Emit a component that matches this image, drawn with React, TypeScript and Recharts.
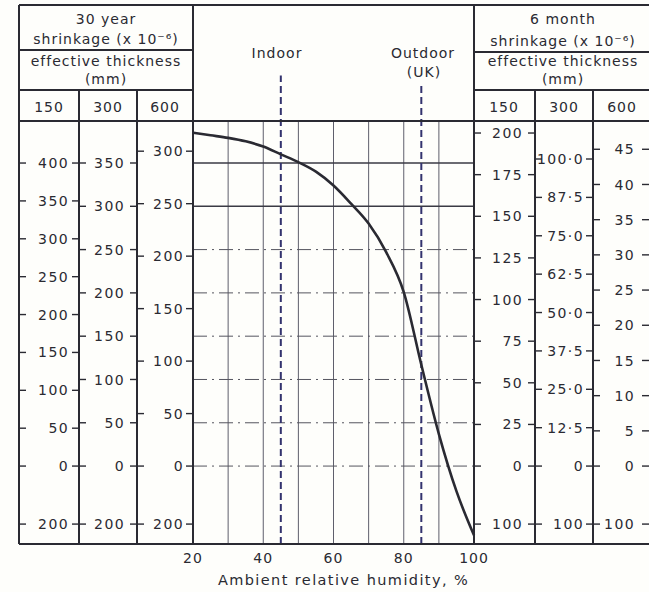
import React from "react";
import { ComposedChart, Line, XAxis, YAxis, ReferenceLine } from "recharts";

// curve: 30 year shrinkage read on the 300 mm scale (below 0 = swelling, broken scale)
const RH = [20, 25, 30, 35, 40, 45, 50, 55, 60, 65, 70, 75, 80, 85, 90, 95, 100];
const SHRINK_300 = [385, 382, 379, 375, 369, 360, 351, 340, 324, 303, 280, 247, 201, 117, 37, -29, -80];

const RH_TICKS = [20, 40, 60, 80, 100];
const RH_GRID = [30, 40, 50, 60, 70, 80, 90];
const GRID_SOLID = [350, 300];
const GRID_DASHED = [250, 200, 150, 100, 50, 0];
const INDOOR_RH = 45;
const OUTDOOR_RH = 85;

// side scales
const L150_TICKS = [0, 50, 100, 150, 200, 250, 300, 350, 400];
const L300_TICKS = [0, 50, 100, 150, 200, 250, 300, 350];
const L600_TICKS = [0, 50, 100, 150, 200, 250, 300];
const R150_TICKS = [0, 25, 50, 75, 100, 125, 150, 175, 200];
const R300_TICKS = [0, 12.5, 25, 37.5, 50, 62.5, 75, 87.5, 100];
const R600_TICKS = [0, 5, 10, 15, 20, 25, 30, 35, 40, 45];
const SWELL_30Y = "200";
const SWELL_6M = "100";

const MAIN_MIN = -90;
const MAIN_MAX = 398.5;
const SWELL_AT = -67;

const INK = "#2a2a32";
const FONT = "'DejaVu Sans', sans-serif";

const data = RH.map((rh, i) => ({ rh, s: SHRINK_300[i] }));

const dec = (v: number) => (v === 0 ? "0" : v.toFixed(1).replace(".", "·"));

// k = how each side scale relates to the 300 mm / 30 year scale
type Col = { id: string; k: number; side: "left" | "right"; w: number; ticks: number[]; swell: string; fmt: (v: number) => string; pad: number };

// recharts stacks axes by id, first id next to the plot
const COLS: Col[] = [
  { id: "a600", k: 0.825, side: "left", w: 56, ticks: L600_TICKS, swell: SWELL_30Y, fmt: String, pad: 9 },
  { id: "b300", k: 1, side: "left", w: 58, ticks: L300_TICKS, swell: SWELL_30Y, fmt: String, pad: 12 },
  { id: "c150", k: 1.143, side: "left", w: 60, ticks: L150_TICKS, swell: SWELL_30Y, fmt: String, pad: 10 },
  { id: "d150", k: 0.52, side: "right", w: 61, ticks: R150_TICKS, swell: SWELL_6M, fmt: String, pad: 12 },
  { id: "e300", k: 0.282, side: "right", w: 58, ticks: R300_TICKS, swell: SWELL_6M, fmt: dec, pad: 9 },
  { id: "f600", k: 0.123, side: "right", w: 56, ticks: R600_TICKS, swell: SWELL_6M, fmt: String, pad: 14 },
];

function ColTick(props: any) {
  const { x, y, payload, col } = props;
  const c = col as Col;
  const left = c.side === "left" ? x - c.w : x;
  const right = c.side === "left" ? x : x + c.w;
  const isSwell = Math.abs(payload.value - SWELL_AT * c.k) < 1e-6;
  const label = isSwell ? c.swell : c.fmt(payload.value);
  return (
    <g>
      <line x1={left} x2={left + 7} y1={y} y2={y} stroke={INK} strokeWidth={1.4} />
      <line x1={right - 7} x2={right} y1={y} y2={y} stroke={INK} strokeWidth={1.4} />
      <text x={right - c.pad} y={y} dy="0.36em" textAnchor="end" fill={INK}
        fontFamily={FONT} fontSize={14} letterSpacing={1.4}>{label}</text>
    </g>
  );
}

function colAxis(c: Col) {
  return (
    <YAxis key={c.id} yAxisId={c.id} orientation={c.side} width={c.w} type="number"
      domain={[MAIN_MIN * c.k, MAIN_MAX * c.k]} allowDataOverflow
      ticks={[SWELL_AT * c.k, ...c.ticks]} interval={0}
      axisLine={false} tickLine={false} tickSize={0} tickMargin={0}
      tick={(p: any) => <ColTick {...p} col={c} />} />
  );
}

function Frame() {
  const t = { fill: INK, fontFamily: FONT, fontSize: 14, letterSpacing: 1, textAnchor: "middle" as const };
  const ln = { stroke: INK, strokeWidth: 2 };
  return (
    <svg width={649} height={592} style={{ position: "absolute", left: 0, top: 0, pointerEvents: "none" }}>
      <line x1={19} x2={649} y1={5} y2={5} {...ln} />
      <line x1={19} x2={649} y1={121} y2={121} {...ln} />
      <line x1={19} x2={649} y1={544} y2={544} {...ln} />
      <line x1={19} x2={193} y1={50} y2={50} {...ln} />
      <line x1={19} x2={193} y1={90} y2={90} {...ln} />
      <line x1={474} x2={649} y1={52} y2={52} {...ln} />
      <line x1={474} x2={649} y1={90} y2={90} {...ln} />
      {[19, 193, 474].map((x) => <line key={x} x1={x} x2={x} y1={5} y2={544} {...ln} />)}
      {[79, 137, 535, 593].map((x) => <line key={x} x1={x} x2={x} y1={90} y2={544} {...ln} />)}

      <text x={106} y={24} {...t}>30 year</text>
      <text x={106} y={44} {...t}>shrinkage (x 10⁻⁶)</text>
      <text x={106} y={66} {...t}>effective thickness</text>
      <text x={106} y={84} {...t}>(mm)</text>
      <text x={49} y={112} {...t}>150</text>
      <text x={108} y={112} {...t}>300</text>
      <text x={165} y={112} {...t}>600</text>

      <text x={277} y={58} {...t}>Indoor</text>
      <text x={423} y={58} {...t}>Outdoor</text>
      <text x={424} y={77} {...t}>(UK)</text>

      <text x={563} y={24} {...t}>6 month</text>
      <text x={563} y={46} {...t}>shrinkage (x 10⁻⁶)</text>
      <text x={563} y={66} {...t}>effective thickness</text>
      <text x={563} y={84} {...t}>(mm)</text>
      <text x={504} y={112} {...t}>150</text>
      <text x={564} y={112} {...t}>300</text>
      <text x={622} y={112} {...t}>600</text>
    </svg>
  );
}

export default function App() {
  return (
    <div style={{ position: "absolute", left: 0, top: 0, width: 649, height: 592, background: "#fefefb" }}>
      <ComposedChart width={649} height={592} data={data}
        margin={{ top: 121, right: 0, bottom: 4, left: 19 }}>
        <XAxis xAxisId="rh" dataKey="rh" type="number" domain={[20, 100]} ticks={RH_TICKS}
          axisLine={false} tickLine={false} tickMargin={3} height={44}
          tick={{ fill: INK, fontFamily: FONT, fontSize: 14, letterSpacing: 1 }}
          label={{ value: "Ambient relative humidity, %", position: "insideBottom", offset: 3, dx: 10,
            fill: INK, fontFamily: FONT, fontSize: 14.5, letterSpacing: 1.4 }} />
        <YAxis yAxisId="main" hide type="number" domain={[MAIN_MIN, MAIN_MAX]} allowDataOverflow />
        {COLS.map(colAxis)}

        {RH_GRID.map((v) => (
          <ReferenceLine key={"v" + v} xAxisId="rh" yAxisId="main" x={v} stroke="#5f5f6c" strokeWidth={1} />
        ))}
        {GRID_SOLID.map((v) => (
          <ReferenceLine key={"hs" + v} xAxisId="rh" yAxisId="main" y={v} stroke="#3a3a44" strokeWidth={1.4} />
        ))}
        {GRID_DASHED.map((v) => (
          <ReferenceLine key={"hd" + v} xAxisId="rh" yAxisId="main" y={v} stroke="#55555f" strokeWidth={1}
            strokeDasharray="14 5 2 5" />
        ))}
        <ReferenceLine xAxisId="rh" yAxisId="main" ifOverflow="visible" stroke="#33336e" strokeWidth={2}
          strokeDasharray="7 4" segment={[{ x: INDOOR_RH, y: MAIN_MIN }, { x: INDOOR_RH, y: 451 }]} />
        <ReferenceLine xAxisId="rh" yAxisId="main" ifOverflow="visible" stroke="#33336e" strokeWidth={2}
          strokeDasharray="7 4" segment={[{ x: OUTDOOR_RH, y: MAIN_MIN }, { x: OUTDOOR_RH, y: 442 }]} />

        <Line xAxisId="rh" yAxisId="main" dataKey="s" type="monotone" stroke={INK} strokeWidth={2.6}
          dot={false} isAnimationActive={false} />
      </ComposedChart>
      <Frame />
    </div>
  );
}
